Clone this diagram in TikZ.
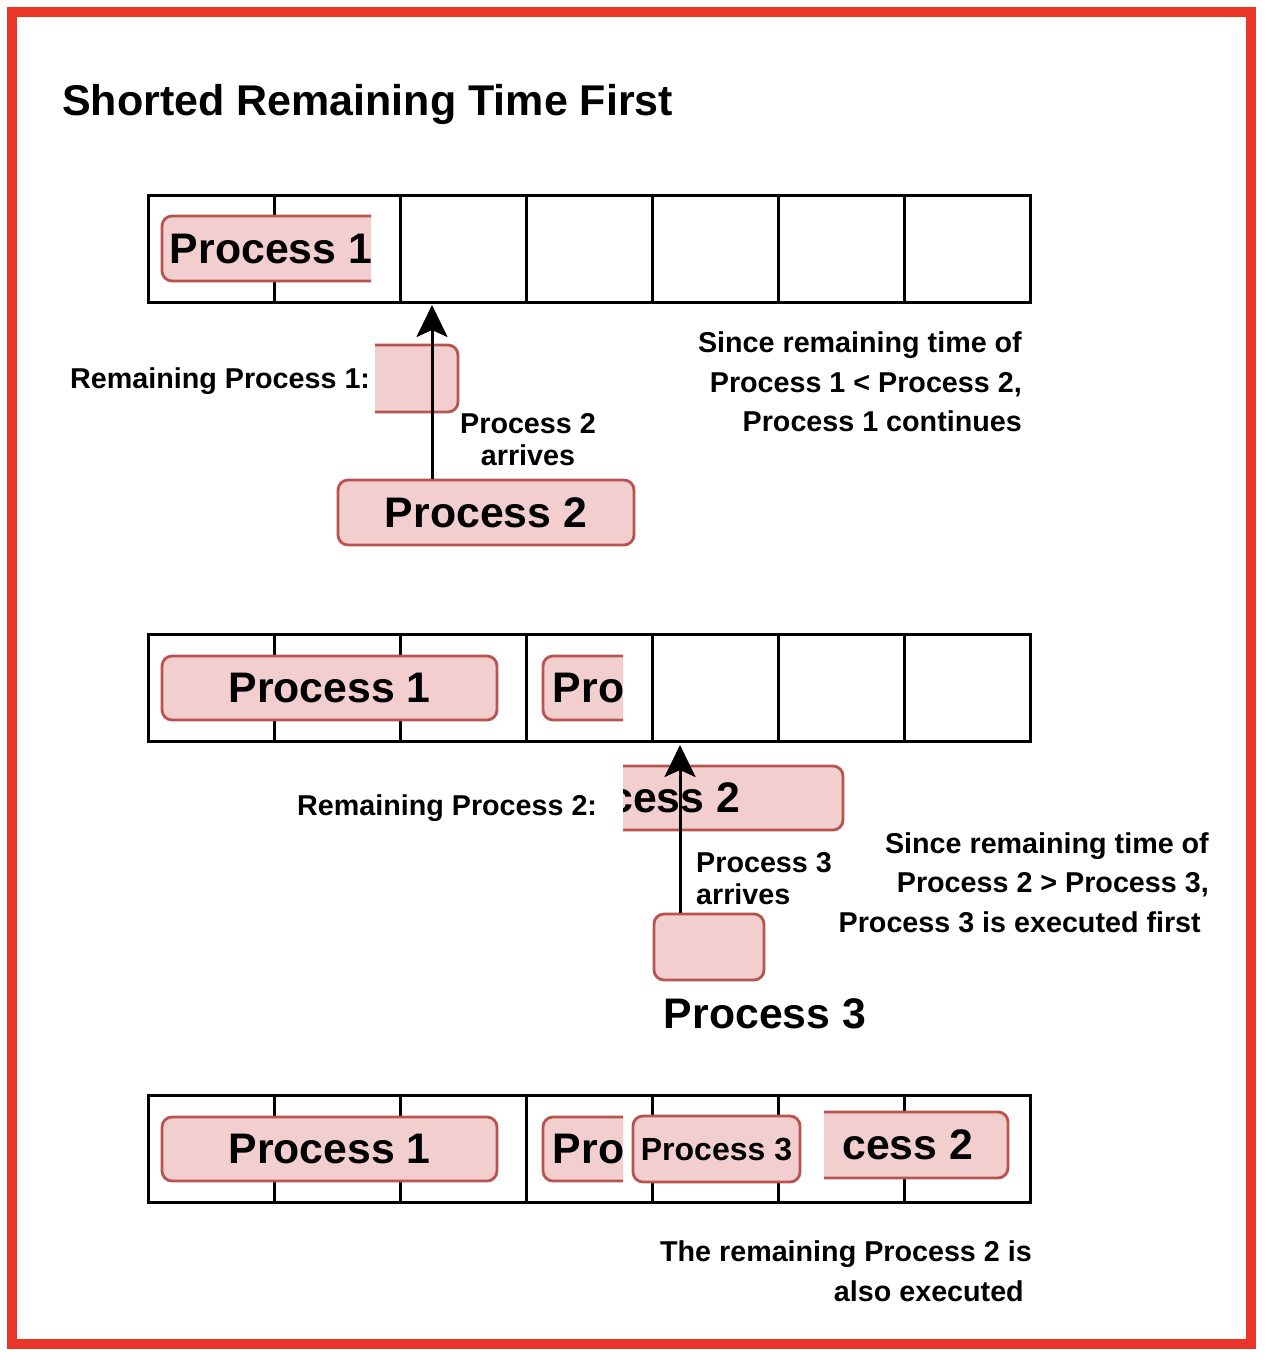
\documentclass[tikz,border=0pt]{standalone}
\usepackage{fontspec}
\setmainfont{Liberation Sans}
\usetikzlibrary{arrows.meta}
\definecolor{pfill}{HTML}{F2CFCE}
\definecolor{pline}{HTML}{B85450}
\definecolor{frame}{RGB}{234,54,40}
\tikzset{gr/.style={draw, line width=3pt, outer sep=0pt},
  pb/.style={draw=pline, fill=pfill, line width=2.8pt, rounded corners=10pt},
  bt/.style={inner sep=0pt, font=\bfseries\fontsize{42.75}{50}\selectfont},
  st/.style={inner sep=0pt, font=\bfseries\fontsize{32}{38}\selectfont},
  tx/.style={inner sep=0pt, font=\bfseries\fontsize{28.7}{39.5}\selectfont},
  tn/.style={inner sep=0pt, font=\bfseries\fontsize{28.7}{32}\selectfont},
  ar/.style={line width=3pt, -{Stealth[length=32pt, width=31pt, inset=7pt]}}}

\begin{document}
\begin{tikzpicture}[x=1pt, y=-1pt]
            \useasboundingbox (0,0) rectangle (1266,1360);
            \draw[frame, line width=10pt] (12,12) rectangle (1251,1344);
            \node[inner sep=0pt, anchor=base west, font=\bfseries\fontsize{43}{50}\selectfont] (ttl) at (62,115) {Shorted Remaining Time First};
            % the three time lines
            \node[gr, minimum width=882pt, minimum height=107pt] (r1) at (589,248.5) {};
            \node[gr, minimum width=882pt, minimum height=107pt] (r2) at (589,687.5) {};
            \node[gr, minimum width=882pt, minimum height=107pt] (r3) at (589,1148.5) {};
            \foreach \r in {r1,r2,r3}
              \foreach \i in {1,...,6}
                \draw[gr] ([xshift=\i*126]\r.north west) -- ([xshift=\i*126]\r.south west);
            % first step
            \begin{scope}
              \clip (150,200) rectangle (371,300);
              \draw[pb] (162,216) rectangle (497,281);
              \node[bt] (a1) at (271,248.5) {Process 1};
            \end{scope}
            \begin{scope}
              \clip (375,330) rectangle (470,425);
              \draw[pb] (300,345) rectangle (458,412);
            \end{scope}
            \node[tx, anchor=base west] (rem1) at (70,388) {Remaining Process 1:};
            \node[pb, bt, minimum width=296pt, minimum height=65pt] (p2) at (486,512.5) {Process 2};
            \coordinate (t1) at (432,305);
            \draw[ar] (p2.north -| t1) -- (t1);
            \node[tn, align=center] (arr2) at (528,440) {Process 2\\arrives};
            \node[tx, align=right, anchor=east] (why1) at (1022,382) {Since remaining time of\\Process 1 < Process 2,\\Process 1 continues};
            % second step
            \node[pb, bt, minimum width=335pt, minimum height=64pt] (b1) at (329.5,688) {Process 1};
            \begin{scope}
              \clip (530,640) rectangle (623,735);
              \draw[pb] (543,656) rectangle (843,720);
              \node[bt] (b2) at (654,688) {Process 2};
            \end{scope}
            \begin{scope}
              \clip (623,755) rectangle (860,845);
              \draw[pb] (543,766) rectangle (843,830);
              \node[bt] (b2r) at (639,798) {Process 2};
            \end{scope}
            \node[tx, anchor=base west] (rem2) at (297,815) {Remaining Process 2:};
            \node[pb, minimum width=110pt, minimum height=66pt] (p3) at (709,947) {};
            \node[bt, anchor=base] (p3l) at (765,1028) {Process 3};
            \coordinate (t2) at (680,745);
            \draw[ar] (p3.north -| t2) -- (t2);
            \node[tn, align=left, anchor=west] (arr3) at (696,878.5) {Process 3\\arrives};
            \node[tx, align=right, anchor=east] (why2) at (1209,882.5) {Since remaining time of\\Process 2 > Process 3,\\Process 3 is executed first\hspace*{8pt}};
            % third step
            \node[pb, bt, minimum width=335pt, minimum height=64pt] (c1) at (329.5,1149) {Process 1};
            \begin{scope}
              \clip (530,1100) rectangle (623,1195);
              \draw[pb] (543,1117) rectangle (843,1181);
              \node[bt] (c2) at (654,1149) {Process 2};
            \end{scope}
            \node[pb, st, minimum width=167pt, minimum height=66pt] (c3) at (716.5,1149) {Process 3};
            \begin{scope}
              \clip (824,1100) rectangle (1020,1190);
              \draw[pb] (700,1112) rectangle (1008,1178);
              \clip (841,1100) rectangle (1020,1190);
              \node[bt] (c2r) at (872,1145) {Process 2};
            \end{scope}
            \node[tx, align=right, anchor=east] (end) at (1032,1271) {The remaining Process 2 is\\also executed\hspace*{8pt}};
        \end{tikzpicture}
\end{document}
